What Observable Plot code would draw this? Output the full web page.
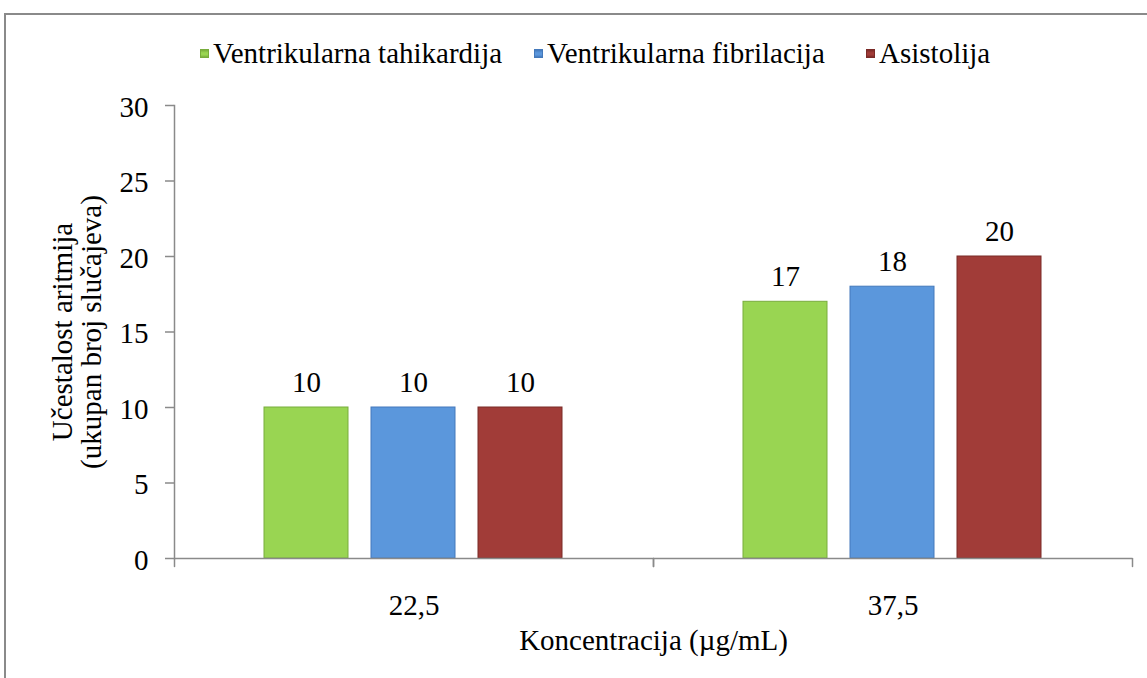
<!DOCTYPE html>
<html>
<head>
<meta charset="utf-8">
<script src="https://cdn.jsdelivr.net/npm/d3@7"></script>
<script src="https://cdn.jsdelivr.net/npm/@observablehq/plot@0.6"></script>
<style>
  html, body { margin: 0; padding: 0; background: #fff; }
  body { width: 1147px; height: 678px; overflow: hidden; position: relative;
         font-family: "Liberation Serif", "Times New Roman", serif; }
  #frame { position: absolute; left: 4px; top: 13px; width: 1300px; height: 800px;
           border-top: 2px solid #8a8a8a; border-left: 2px solid #8a8a8a; pointer-events: none; }
  #legend { position: relative; height: 80px; }
  .item { position: absolute; top: 37px; height: 32px; line-height: 32px; font-size: 29px;
          display: flex; align-items: center; white-space: nowrap; color: #000; }
  .sw { width: 9px; height: 9px; margin-right: 4px; box-sizing: border-box; }
  #chart svg { display: block; }
</style>
</head>
<body>
<div id="frame"></div>
<div id="legend"></div>
<div id="chart"></div>
<script>
// ---- data ----
const concentrations = ["22,5", "37,5"];
const series = ["Ventrikularna tahikardija", "Ventrikularna fibrilacija", "Asistolija"];
const tahikardija = [10, 17];
const fibrilacija = [10, 18];
const asistolija = [10, 20];
const yTicks = [0, 5, 10, 15, 20, 25, 30];
const seriesColors = ["#99d552", "#5b97dc", "#a13c38"];
const seriesEdges = ["#78ad3c", "#4479bb", "#7a2a27"];
const legendLeft = [200, 534, 866];
const yLabel = "Učestalost aritmija\n(ukupan broj slučajeva)";
const xLabel = "Koncentracija (µg/mL)";

const valuesBySeries = [tahikardija, fibrilacija, asistolija];
const data = concentrations.flatMap((c, i) =>
  series.map((s, j) => ({conc: c, series: s, value: valuesBySeries[j][i]})));

// ---- legend ----
const legend = document.getElementById("legend");
series.forEach((s, i) => {
  const it = document.createElement("div");
  it.className = "item";
  it.style.left = legendLeft[i] + "px";
  const sw = document.createElement("span");
  sw.className = "sw";
  sw.style.background = `linear-gradient(${seriesEdges[i]}, ${seriesColors[i]} 40%, ${seriesColors[i]} 70%, ${seriesEdges[i]})`;
  sw.style.border = `1px solid ${seriesEdges[i]}`;
  it.appendChild(sw);
  it.appendChild(document.createTextNode(s));
  legend.appendChild(it);
});

// ---- chart ----
const axisColor = "#8a8a8a";
const tickShape = {draw(context, l) { context.moveTo(0, 0); context.lineTo(0, -l); }};

const chart = Plot.plot({
  width: 1147,
  height: 598,
  marginTop: 25,
  marginBottom: 120,
  marginLeft: 173,
  marginRight: 15,
  style: {fontFamily: "'Liberation Serif', 'Times New Roman', serif", fontSize: "29px", color: "#000", background: "transparent"},
  fx: {domain: concentrations, padding: 0, axis: null},
  x: {domain: series, paddingInner: 0.213, paddingOuter: 0.833, axis: null},
  y: {domain: [0, 30], axis: null},
  color: {domain: series, range: seriesColors},
  marks: [
    Plot.barY(data, {fx: "conc", x: "series", y: "value", fill: "series",
      stroke: d => seriesEdges[series.indexOf(d.series)], strokeWidth: 1}),
    Plot.text(data, {fx: "conc", x: "series", y: "value", text: d => String(d.value),
      dy: -25, lineAnchor: "middle", fill: "#000"}),
    Plot.ruleY([0], {stroke: axisColor, strokeWidth: 1.5}),
    Plot.frame({anchor: "left", facetAnchor: "left", stroke: axisColor, strokeWidth: 1.5}),
    Plot.vector([0], {frameAnchor: "bottom-left", length: 8, rotate: 180, anchor: "start",
      shape: tickShape, stroke: axisColor, strokeWidth: 1.5}),
    Plot.vector([0], {frameAnchor: "bottom-right", length: 8, rotate: 180, anchor: "start",
      shape: tickShape, stroke: axisColor, strokeWidth: 1.5}),
    Plot.axisY({ticks: yTicks, tickSize: 9, tickPadding: 17, stroke: axisColor, strokeWidth: 1.5,
      fill: "#000", label: yLabel, labelArrow: "none", labelAnchor: "center", labelOffset: 123, lineHeight: 1.2}),
    Plot.axisFx({anchor: "bottom", tickSize: 0, tickPadding: 36, fill: "#000",
      label: xLabel, labelArrow: "none", labelAnchor: "center", labelOffset: 91})
  ]
});
document.getElementById("chart").appendChild(chart);
</script>
</body>
</html>
